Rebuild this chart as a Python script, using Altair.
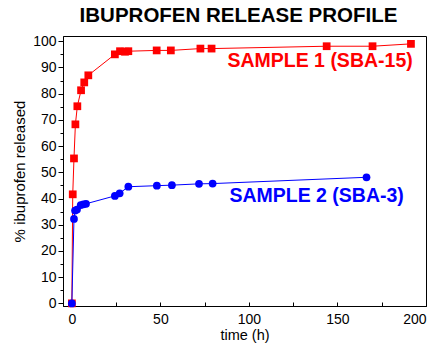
import altair as alt
import pandas as pd

# SAMPLE 1 (SBA-15)
t1 = [0, 0.5, 1.2, 2, 3.1, 5.2, 7, 9.3, 24.3, 27.2, 30, 31.9, 47.9, 55.9, 72.6, 78.9, 143.9, 169.8, 191.5]
r1 = [0, 41.6, 55.3, 68.3, 75.2, 81.3, 84.3, 87, 95, 96.2, 96, 96.2, 96.5, 96.5, 97.2, 97.2, 98.1, 98.1, 99]
# SAMPLE 2 (SBA-3)
t2 = [0, 1.2, 1.8, 2.9, 5, 6.5, 8, 24.3, 27, 31.9, 48, 56.5, 71.8, 79.5, 166.4]
r2 = [0, 32.2, 35.4, 35.8, 37.5, 37.8, 38, 41, 42, 44.5, 44.9, 45.1, 45.6, 45.7, 48.1]

labels = ["SAMPLE 1 (SBA-15)", "SAMPLE 2 (SBA-3)"]
label_x = [192.5, 187.5]
label_y = [92.4, 40.8]
colors = ["#ff0000", "#0000ff"]

d1 = pd.DataFrame({"t": t1, "r": r1})
d2 = pd.DataFrame({"t": t2, "r": r2})
dl = pd.DataFrame({"x": label_x, "y": label_y, "label": labels, "c": colors})

FONT = "Liberation Sans"
H = 270
xs = alt.Scale(domain=[-5, 200], nice=False, zero=False)
ys = alt.Scale(domain=[-1, 102], nice=False, zero=False)

xax = alt.Axis(values=list(range(0, 201, 50)), title="time (h)", grid=False, ticks=False,
               labelPadding=6, labelFontSize=14, titleFontSize=14.5, titleFontWeight="normal",
               labelColor="#000", titleColor="#000", domainColor="#000", labelFont=FONT,
               titleFont=FONT, titlePadding=2)
yax = alt.Axis(values=list(range(0, 101, 10)), title="% ibuprofen released", grid=False, tickSize=5,
               labelFontSize=14, titleFontSize=15, titleFontWeight="normal", labelColor="#000",
               titleColor="#000", domainColor="#000", tickColor="#000", labelFont=FONT, titleFont=FONT,
               labelPadding=2, titlePadding=5)

xminor = alt.Axis(orient="top", offset=-H, values=list(range(0, 201, 25)), title=None, labels=False,
                  grid=False, tickSize=4, domain=False, tickColor="#000")
yminor = alt.Axis(orient="left", values=list(range(0, 101, 5)), title=None, labels=False, grid=False,
                  tickSize=3, domain=False, tickColor="#000")

enc = dict(x=alt.X("t:Q", scale=xs, axis=xax), y=alt.Y("r:Q", scale=ys, axis=yax))
line1 = alt.Chart(d1).mark_line(color="#ff0000", strokeWidth=1).encode(**enc)
pts1 = alt.Chart(d1).mark_point(shape="square", filled=True, size=60, color="#ff0000", opacity=1).encode(**enc)
line2 = alt.Chart(d2).mark_line(color="#0000ff", strokeWidth=1).encode(**enc)
pts2 = alt.Chart(d2).mark_point(shape="circle", filled=True, size=60, color="#0000ff", opacity=1).encode(**enc)
txt = alt.Chart(dl).mark_text(align="right", baseline="middle", fontSize=19.5, fontWeight="bold", font=FONT).encode(
    x=alt.X("x:Q", scale=xs, axis=xax), y=alt.Y("y:Q", scale=ys, axis=yax),
    text="label:N", color=alt.Color("c:N", scale=None))

main = alt.layer(line1, pts1, line2, pts2, txt)

minor = alt.Chart(d1).mark_point(opacity=0).encode(
    x=alt.X("t:Q", scale=xs, axis=xminor), y=alt.Y("r:Q", scale=ys, axis=yminor))

chart = alt.layer(main, minor).resolve_axis(x="independent", y="independent").properties(
    width=363, height=H,
    padding={"left": 63, "top": 36, "right": 12, "bottom": 37},
    autosize=alt.AutoSizeParams(type="none"),
    title=alt.Title("IBUPROFEN RELEASE PROFILE", fontSize=20.5, fontWeight="bold", font=FONT,
                    color="#000", anchor="middle", offset=8, dx=-6),
).configure_view(stroke="#000", strokeWidth=1)

chart.save("out.html", embed_options={"renderer": "svg", "actions": False})
